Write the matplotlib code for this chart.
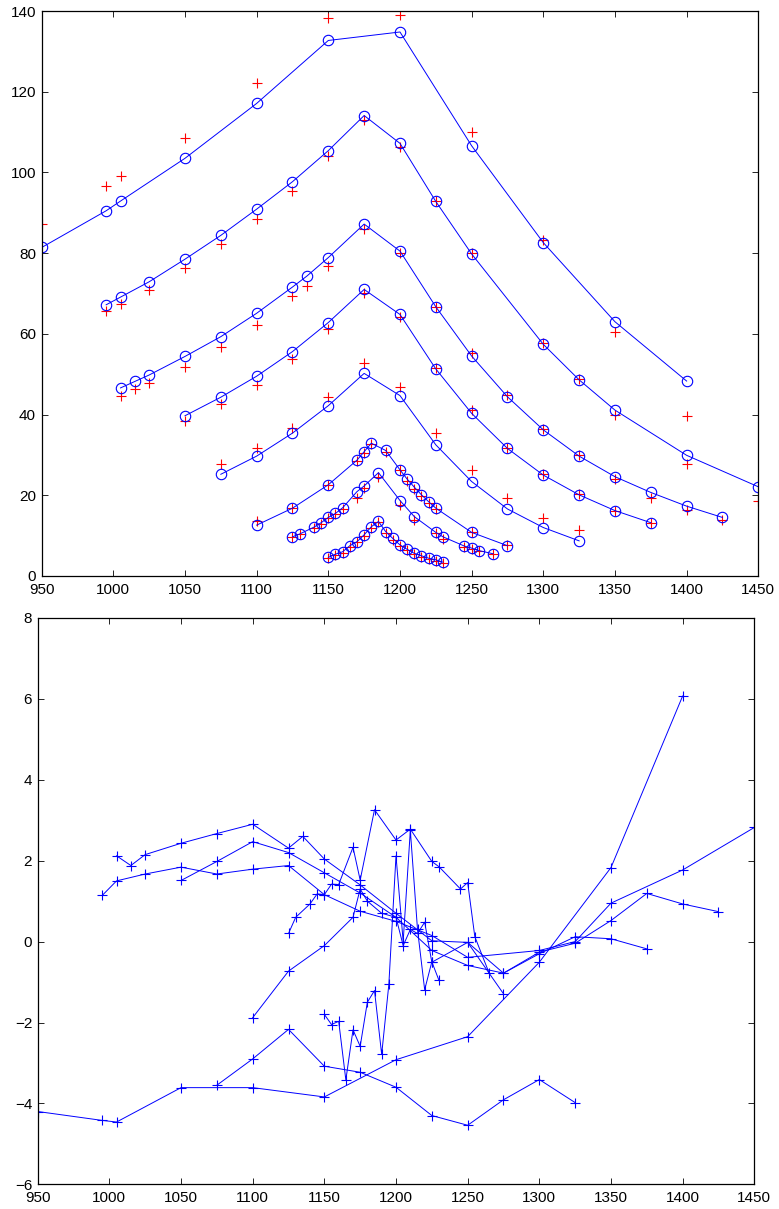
import numpy as np
import matplotlib
matplotlib.use('Agg')
import matplotlib.pyplot as plt

plt.rcParams['font.family'] = ['Liberation Sans', 'DejaVu Sans']

# ---- top panel: fitted (o) and measured (+) curves ----
xA = [950, 995, 1005, 1050, 1100, 1150, 1200, 1250, 1300, 1350, 1400]
fitA = [81.4, 90.5, 92.9, 103.5, 117.1, 132.7, 134.8, 106.6, 82.6, 63.0, 48.3]
measA = [87.2, 96.7, 99.1, 108.5, 122.1, 138.2, 139.0, 109.9, 83.3, 60.4, 39.7]

xB = [995, 1005, 1025, 1050, 1075, 1100, 1125, 1150, 1175, 1200, 1225, 1250,
      1300, 1325, 1350, 1400, 1450]
fitB = [67.2, 69.1, 72.9, 78.5, 84.4, 90.9, 97.7, 105.4, 114.1, 107.2, 92.8,
        79.8, 57.4, 48.6, 41.1, 29.9, 22.1]
measB = [65.7, 67.3, 70.9, 76.2, 82.2, 88.5, 95.4, 104.1, 113.0, 106.4, 92.9,
         80.1, 57.8, 48.8, 39.9, 27.7, 18.5]

xC = [1005, 1015, 1025, 1050, 1075, 1100, 1125, 1135, 1150, 1175, 1200, 1225,
      1250, 1275, 1300, 1325, 1350, 1375, 1400, 1425]
fitC = [46.6, 48.2, 49.8, 54.4, 59.3, 65.1, 71.6, 74.3, 78.9, 87.2, 80.5, 66.7,
        54.5, 44.4, 36.2, 29.7, 24.6, 20.7, 17.3, 14.5]
measC = [44.5, 46.3, 47.7, 51.9, 56.7, 62.3, 69.3, 71.9, 76.8, 86.1, 80.0, 66.7,
         55.3, 44.9, 36.4, 29.9, 24.0, 19.2, 16.4, 13.9]

xD = [1050, 1075, 1100, 1125, 1150, 1175, 1200, 1225, 1250, 1275, 1300, 1325,
      1350, 1375]
fitD = [39.7, 44.3, 49.5, 55.6, 62.8, 71.0, 64.8, 51.3, 40.3, 31.6, 25.0, 20.1,
        16.2, 13.2]
measD = [38.4, 42.6, 47.3, 53.7, 61.1, 70.0, 64.1, 51.5, 41.1, 31.8, 25.2, 20.2,
         16.2, 13.2]

xE = [1075, 1100, 1125, 1150, 1175, 1200, 1225, 1250, 1275, 1300, 1325]
fitE = [25.2, 29.7, 35.4, 42.2, 50.2, 44.7, 32.5, 23.4, 16.6, 12.0, 8.7]
measE = [27.7, 31.6, 36.6, 44.3, 52.7, 46.9, 35.4, 26.3, 19.2, 14.3, 11.4]

xF = [1100, 1125, 1150, 1170, 1175, 1180, 1190, 1200, 1205, 1210, 1215, 1220,
      1225, 1250, 1275]
fitF = [12.6, 16.8, 22.6, 28.7, 30.8, 32.9, 31.1, 26.3, 24.0, 22.0, 20.1, 18.4,
        16.8, 10.8, 7.5]
measF = [13.5, 16.9, 22.6, 28.6, 30.5, 32.6, 30.8, 26.3, 23.6, 21.6, 19.8, 18.0,
         16.5, 10.8, 7.6]

xG = [1125, 1130, 1140, 1145, 1150, 1155, 1160, 1170, 1175, 1185, 1200, 1210,
      1225, 1230, 1245, 1250, 1255, 1265]
fitG = [9.7, 10.4, 12.1, 13.2, 14.5, 15.5, 16.9, 20.9, 22.3, 25.6, 18.7, 14.7,
        10.8, 9.7, 7.4, 6.9, 6.3, 5.5]
measG = [9.6, 10.3, 11.9, 13.0, 14.3, 15.3, 16.7, 19.2, 21.7, 24.6, 17.6, 13.9,
         10.6, 9.1, 7.2, 6.7, 6.1, 5.4]

xH = [1150, 1155, 1160, 1165, 1170, 1175, 1180, 1185, 1190, 1195, 1200, 1205,
      1210, 1215, 1220, 1225, 1230]
fitH = [4.6, 5.4, 6.0, 7.5, 8.5, 10.2, 12.2, 13.5, 11.0, 9.3, 7.7, 6.6, 5.6,
        5.0, 4.4, 4.0, 3.4]
measH = [4.4, 5.2, 5.8, 7.3, 8.4, 9.9, 11.9, 13.3, 10.7, 9.0, 7.4, 6.4, 5.4,
         4.7, 4.2, 3.7, 3.1]

# ---- bottom panel: residuals ----
resA = [-4.2, -4.42, -4.46, -3.61, -3.61, -3.84, -2.92, -2.35, -0.51, 1.83, 6.07]
resB = [1.14, 1.5, 1.67, 1.84, 1.67, 1.79, 1.88, 1.16, 0.75, 0.5, 0.15, -0.39,
        -0.22, 0.0, 0.95, 1.77, 2.82]
resC = [2.12, 1.88, 2.15, 2.43, 2.67, 2.9, 2.31, 2.6, 2.04, 1.4, 0.7, 0.02,
        -0.02, -0.78, -0.26, -0.04, 0.52, 1.19, 0.93, 0.74]
resD = [1.51, 1.98, 2.47, 2.2, 1.7, 1.2, 0.6, -0.22, -0.59, -0.78, -0.3, 0.12,
        0.07, -0.18]
resE = [-3.55, -2.9, -2.17, -3.08, -3.23, -3.6, -4.3, -4.54, -3.91, -3.41, -3.98]
resF = [-1.88, -0.73, -0.1, 0.6, 1.3, 1.0, 0.7, 0.6, -0.1, 0.3, 0.2, 0.48,
        -0.51, -0.02, -1.29]
resG = [0.2, 0.6, 0.93, 1.18, 1.16, 1.42, 1.41, 2.33, 1.52, 3.26, 2.51, 2.78,
        1.98, 1.85, 1.3, 1.46, 0.12, -0.78]
resH = [-1.8, -2.05, -1.97, -3.42, -2.18, -2.59, -1.5, -1.21, -2.79, -1.06, 2.12,
        0.0, 2.75, 0.3, -1.19, -0.5, -0.96]

xs = [xA, xB, xC, xD, xE, xF, xG, xH]
fits = [fitA, fitB, fitC, fitD, fitE, fitF, fitG, fitH]
meas = [measA, measB, measC, measD, measE, measF, measG, measH]
res = [resA, resB, resC, resD, resE, resF, resG, resH]


def style_axes(ax):
    ax.tick_params(direction='in', length=4.5, width=0.6, top=True, right=True,
                   labelsize=11)
    ax.tick_params(axis='x', pad=5)
    ax.tick_params(axis='y', pad=4)
    for s in ax.spines.values():
        s.set_linewidth(0.9)


fig = plt.figure(figsize=(7.79, 12.09), dpi=100)
ax1 = fig.add_axes([0.0535, 0.5236, 0.9199, 0.4673])
ax2 = fig.add_axes([0.0484, 0.0204, 0.9199, 0.4685])

for x, f, m in zip(xs, fits, meas):
    ax1.plot(x, m, '+', color='r', markersize=7, markeredgewidth=0.8)
    ax1.plot(x, f, '-o', color='b', linewidth=0.7, markersize=7.5,
             markerfacecolor='none', markeredgewidth=0.8)
ax1.set_xlim(950, 1450)
ax1.set_ylim(0, 140)
ax1.set_xticks(np.arange(950, 1451, 50))
ax1.set_yticks(np.arange(0, 141, 20))
style_axes(ax1)

for x, r in zip(xs, res):
    ax2.plot(x, r, '-+', color='b', linewidth=0.7, markersize=7,
             markeredgewidth=0.8)
ax2.set_xlim(950, 1450)
ax2.set_ylim(-6, 8)
ax2.set_xticks(np.arange(950, 1451, 50))
ax2.set_yticks(np.arange(-6, 9, 2))
style_axes(ax2)
ax2.set_yticklabels([str(v).replace('-', '\u2212') for v in range(-6, 9, 2)])

fig.savefig('out.png', dpi=100)
